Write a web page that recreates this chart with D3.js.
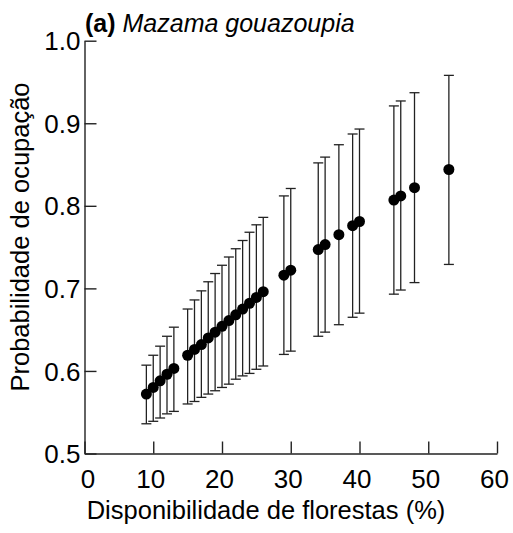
<!DOCTYPE html>
<html>
<head>
<meta charset="utf-8">
<script src="https://cdn.jsdelivr.net/npm/d3@7"></script>
<style>
  body { margin: 0; background: #fff; }
  text { font-family: "Liberation Sans", Arial, sans-serif; fill: #000; }
</style>
</head>
<body>
<div id="chart"></div>
<script>
// forest availability (%) of each site
var forest = [9, 10, 11, 12, 13, 15, 16, 17, 18, 19, 20, 21, 22, 23, 24, 25, 26, 29, 30, 34, 35, 37, 39, 40, 45, 46, 48, 53];
// occupancy probability and its interval
var occupancy = [0.572, 0.580, 0.588, 0.596, 0.603, 0.619, 0.626, 0.632, 0.640, 0.647, 0.654, 0.661, 0.668, 0.675, 0.682, 0.689, 0.696, 0.716, 0.722, 0.747, 0.753, 0.765, 0.776, 0.781, 0.807, 0.812, 0.822, 0.844];
var upper = [0.607, 0.619, 0.630, 0.642, 0.653, 0.675, 0.686, 0.697, 0.708, 0.718, 0.728, 0.738, 0.748, 0.758, 0.768, 0.777, 0.786, 0.812, 0.821, 0.852, 0.859, 0.874, 0.887, 0.893, 0.921, 0.927, 0.937, 0.958];
var lower = [0.536, 0.539, 0.543, 0.548, 0.551, 0.560, 0.563, 0.568, 0.572, 0.576, 0.580, 0.584, 0.590, 0.594, 0.597, 0.602, 0.606, 0.620, 0.624, 0.642, 0.647, 0.656, 0.665, 0.670, 0.693, 0.698, 0.707, 0.729];

var xTicks = [0, 10, 20, 30, 40, 50, 60];
var yTicks = [0.5, 0.6, 0.7, 0.8, 0.9, 1.0];

var svg = d3.select('#chart')
    .append('svg')
    .attr('width', 513)
    .attr('height', 533);

var x = d3.scaleLinear().domain([0, 60]).range([84.5, 497]);
var y = d3.scaleLinear().domain([0.5, 1.0]).range([453.5, 40.7]);

var points = forest.map(function(f, i) {
    return { x: f, y: occupancy[i], hi: upper[i], lo: lower[i] };
});

// axes, ticks pointing inward
var xAxis = svg.append('g')
    .attr('transform', 'translate(0,' + y(0.5) + ')')
    .call(d3.axisBottom(x).tickValues(xTicks).tickSize(-12).tickSizeOuter(0).tickPadding(16));

var yAxis = svg.append('g')
    .attr('transform', 'translate(' + x(0) + ',0)')
    .call(d3.axisLeft(y).tickValues(yTicks).tickFormat(d3.format('.1f')).tickSize(-12).tickSizeOuter(0).tickPadding(4));

svg.selectAll('.domain, .tick line')
    .style('stroke', '#222')
    .style('stroke-width', 1.4);

xAxis.selectAll('.tick text')
    .style('font-size', '26px')
    .style('font-family', '"Liberation Sans", Arial, sans-serif')
    .attr('fill', '#000')
    .attr('dx', d => d === 0 ? 3 : -3);

yAxis.selectAll('.tick text')
    .style('font-size', '26px')
    .style('font-family', '"Liberation Sans", Arial, sans-serif')
    .attr('fill', '#000')
    .attr('dy', '0.35em');

// error bars
var bars = svg.append('g')
    .selectAll('g')
    .data(points)
    .enter()
    .append('g')
    .style('stroke', '#222')
    .style('stroke-width', 1.3);

bars.append('line')
    .attr('x1', d => x(d.x))
    .attr('x2', d => x(d.x))
    .attr('y1', d => y(d.hi))
    .attr('y2', d => y(d.lo));

bars.append('line')
    .attr('x1', d => x(d.x) - 5)
    .attr('x2', d => x(d.x) + 5)
    .attr('y1', d => y(d.hi))
    .attr('y2', d => y(d.hi));

bars.append('line')
    .attr('x1', d => x(d.x) - 5)
    .attr('x2', d => x(d.x) + 5)
    .attr('y1', d => y(d.lo))
    .attr('y2', d => y(d.lo));

svg.append('g')
    .selectAll('circle')
    .data(points)
    .enter()
    .append('circle')
    .attr('cx', d => x(d.x))
    .attr('cy', d => y(d.y))
    .attr('r', 5.5)
    .style('fill', '#000');

// titles
var title = svg.append('text')
    .attr('x', 85)
    .attr('y', 31.5)
    .style('font-size', '25px');
title.append('tspan').style('font-weight', 'bold').text('(a) ');
title.append('tspan').style('font-style', 'italic').text('Mazama gouazoupia');

svg.append('text')
    .attr('x', 266)
    .attr('y', 519)
    .attr('text-anchor', 'middle')
    .style('font-size', '25.5px')
    .text('Disponibilidade de florestas (%)');

svg.append('text')
    .attr('transform', 'translate(29.3,237) rotate(-90)')
    .attr('text-anchor', 'middle')
    .style('font-size', '25.5px')
    .text('Probabilidade de ocupação');
</script>
</body>
</html>
